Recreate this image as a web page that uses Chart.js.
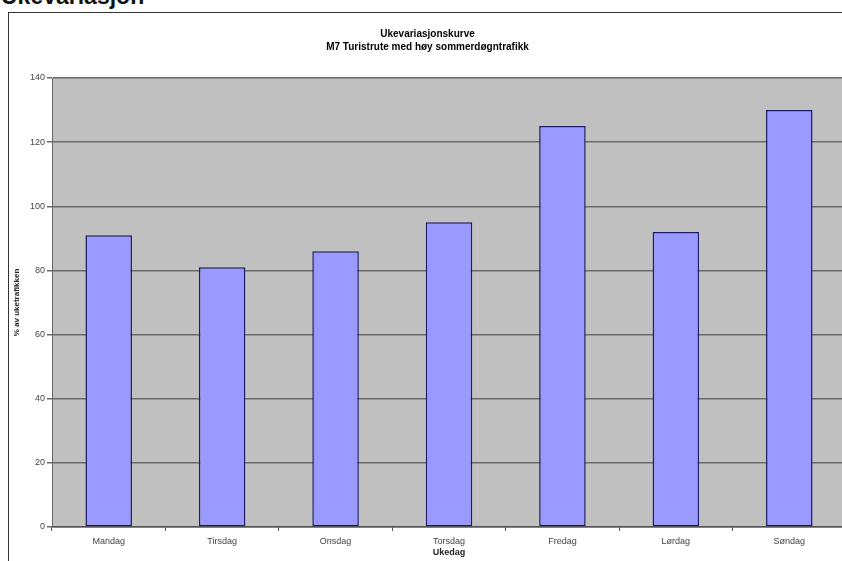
<!DOCTYPE html>
<html>
<head>
<meta charset="utf-8">
<script src="https://cdn.jsdelivr.net/npm/chart.js@4/dist/chart.umd.min.js"></script>
<style>
  body { margin: 0; background: #fff; overflow: hidden; width: 842px; height: 561px; position: relative; }
  #heading { position: absolute; left: 1px; top: -15px; font: bold 23px "Liberation Sans", Arial, sans-serif; line-height: 23px; color: #111; }
  #frame { position: absolute; left: 8px; top: 12px; border: 1px solid #333; }
  canvas { display: block; }
</style>
</head>
<body>
<div id="heading">Ukevariasjon</div>
<div id="frame"><canvas id="myChart" width="837" height="560"></canvas></div>
<script>
// ukedager og andel av uketrafikken (%)
const days = ['Mandag', 'Tirsdag', 'Onsdag', 'Torsdag', 'Fredag', 'Lørdag', 'Søndag']
const shares = [91, 81, 86, 95, 125, 92, 130]
const titleLines = ['Ukevariasjonskurve', 'M7 Turistrute med høy sommerdøgntrafikk']
const yMax = 140
const yStep = 20

const fontFam = '"Liberation Sans", Arial, sans-serif'

// grey plot background like the old excel chart
const plotBg = {
    id: 'plotBg',
    beforeDraw(chart) {
        const { ctx, chartArea: a } = chart
        ctx.save()
        ctx.fillStyle = '#c0c0c0'
        ctx.fillRect(a.left, a.top, a.right - a.left, a.bottom - a.top)
        ctx.restore()
    }
}

const ctx = document.getElementById('myChart')
new Chart(ctx, {
    type: 'bar',
    data: {
        labels: days,
        datasets: [{
            label: '% av uketrafikken',
            data: shares,
            backgroundColor: '#9999ff',
            borderColor: '#1a1a66',
            borderWidth: 1.5,
            borderSkipped: false,
            barPercentage: 0.41,
            categoryPercentage: 1
        }]
    },
    options: {
        responsive: false,
        animation: false,
        layout: { padding: 0 },
        plugins: {
            legend: { display: false },
            tooltip: { enabled: false },
            title: {
                display: true,
                text: titleLines,
                color: '#000',
                font: { family: fontFam, size: 10, weight: 'bold', lineHeight: 1.3 },
                padding: { top: 15, bottom: 24 }
            }
        },
        scales: {
            x: {
                offset: true,
                grid: { display: true, drawOnChartArea: false, offset: true, tickLength: 4, color: '#555' },
                border: { color: '#555', width: 1.5 },
                ticks: { color: '#444', font: { family: fontFam, size: 9 }, padding: 5, maxRotation: 0 },
                title: {
                    display: true,
                    text: 'Ukedag',
                    color: '#222',
                    font: { family: fontFam, size: 9, weight: 'bold' },
                    padding: { top: 0, bottom: 15 }
                },
                afterFit: (s) => { s.height = 46 }
            },
            y: {
                min: 0,
                max: yMax,
                ticks: { stepSize: yStep, color: '#444', font: { family: fontFam, size: 9 }, padding: 2 },
                grid: { color: '#6a6a6a', lineWidth: 1.5, tickLength: 5, drawTicks: true },
                border: { color: '#666', width: 1 },
                title: {
                    display: true,
                    text: '% av uketrafikken',
                    color: '#222',
                    font: { family: fontFam, size: 8, weight: 'bold' },
                    padding: { top: 3, bottom: 0 }
                },
                afterFit: (s) => { s.width = 43 }
            }
        }
    },
    plugins: [plotBg]
})
</script>
</body>
</html>
